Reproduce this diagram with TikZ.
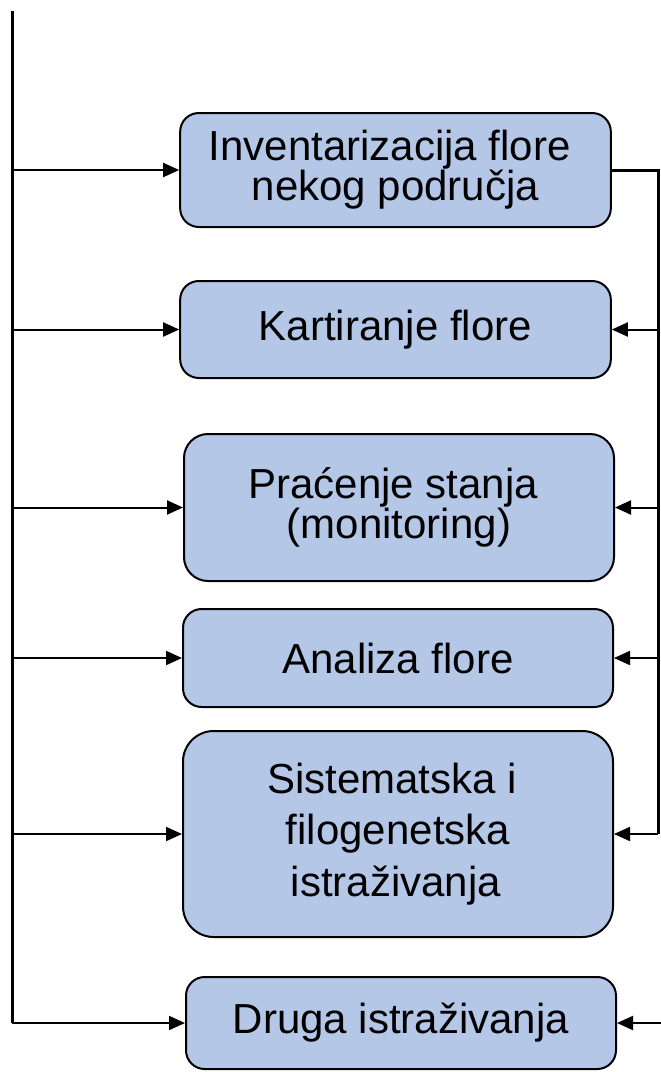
\documentclass[tikz,border=0pt]{standalone}
\usepackage{fontspec}
\setmainfont{Liberation Sans}
\usetikzlibrary{arrows.meta}
\definecolor{boxblue}{RGB}{180,199,231}
\newcommand{\tsp}{\hspace*{8.8pt}}

\begin{document}
\begin{tikzpicture}[x=.75pt, y=-.75pt,
    box/.style={
        draw,
        fill=boxblue,
        line width=1.5pt,
        rounded corners=14pt,
        minimum width=323pt,
        align=center,
        inner sep=0pt,
        font=\fontsize{31.5}{30}\selectfont},
    link/.style={line width=1.5pt, -{Triangle[length=12pt,width=10.5pt]}},
    rail/.style={line width=2.25pt}]

    \useasboundingbox (0,0) rectangle (661,1072);

    \node[box, minimum height=85.5pt] (b1) at (395.5,170) {Inventarizacija flore\tsp\\nekog područja};
    \node[box, minimum height=72.75pt] (b2) at (395.5,329.5) {Kartiranje flore};
    \node[box, minimum height=110.25pt, minimum width=322.5pt, rounded corners=18pt] (b3) at (399,507.5) {Praćenje stanja\tsp\\(monitoring)};
    \node[box, minimum height=73.5pt, minimum width=322.5pt] (b4) at (398,658) {Analiza flore};
    \node[box, minimum height=154.5pt, minimum width=322.5pt, rounded corners=23pt,
          font=\fontsize{31.5}{38.6}\selectfont] (b5) at (398,834) {Sistematska i\tsp\\filogenetska\tsp\\istraživanja\hspace*{3pt}};
    \node[box, minimum height=69pt, minimum width=322.5pt] (b6) at (401,1023) {Druga istraživanja};

    \coordinate (top) at (12,11);
    \coordinate (r) at (658,0);
    \coordinate (edge) at (661,0);

    \draw[rail] (top) -- (top |- b6.west);
    \foreach \b in {b1,b2,b3,b4,b5,b6}
        \draw[link] (top |- \b.west) -- (\b.west);

    \draw[rail] (b1.east) -| (r |- b5.east);
    \foreach \b in {b2,b3,b4,b5}
        \draw[link] (r |- \b.east) -- (\b.east);
    \draw[link] (edge |- b6.east) -- (b6.east);
\end{tikzpicture}
\end{document}
